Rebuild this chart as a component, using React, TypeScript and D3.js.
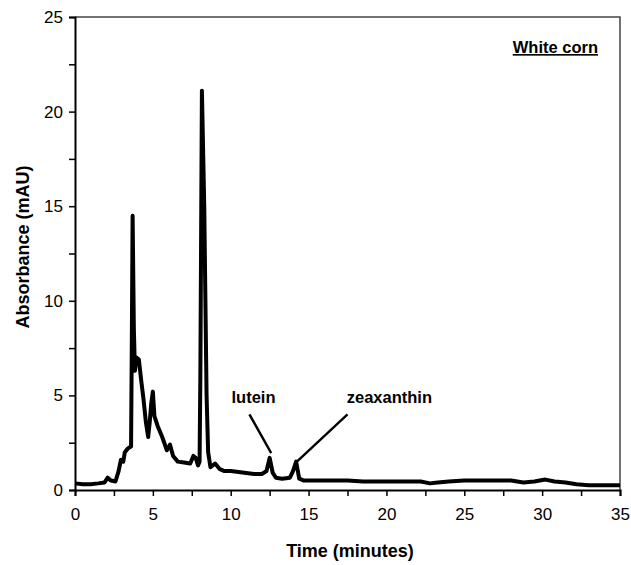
import React, { useEffect, useRef } from 'react';
import * as d3 from 'd3';

// chromatogram trace
const time = [
  0, 0.5, 1, 1.5, 1.9, 2.1, 2.3, 2.6, 2.8, 2.95, 3.1, 3.2, 3.4, 3.6, 3.65, 3.7, 3.78, 3.85, 3.95, 4.1, 4.25,
  4.4, 4.55, 4.7, 4.8, 4.9, 5.0, 5.1, 5.3, 5.6, 5.9, 6.1, 6.3, 6.6, 7.0, 7.4, 7.6, 7.75, 7.9, 8.0, 8.05,
  8.15, 8.3, 8.45, 8.55, 8.7, 9.0, 9.3, 9.6, 10, 10.5, 11, 11.5, 12, 12.3, 12.5, 12.7, 12.9, 13.3, 13.8,
  14.0, 14.2, 14.4, 14.7, 15.5, 16.5, 17.5, 18.5, 19.5, 20.5, 21.5, 22.2, 22.8, 23.3, 24, 25, 26, 27, 28,
  28.8, 29.5, 30.2, 30.8, 31.5, 32.2, 33, 34, 35,
];
const absorbance = [
  0.35, 0.3, 0.3, 0.35, 0.4, 0.65, 0.5, 0.45, 1.0, 1.6, 1.5, 2.0, 2.2, 2.3, 8, 14.5, 8.5, 6.3, 7.0, 6.9,
  5.8, 4.8, 3.6, 2.8, 3.6, 4.6, 5.2, 3.9, 3.4, 2.8, 2.1, 2.4, 1.8, 1.5, 1.45, 1.4, 1.8, 1.7, 1.3, 1.5, 6,
  21.1, 15, 5, 2.0, 1.2, 1.4, 1.1, 1.0, 1.0, 0.95, 0.9, 0.85, 0.85, 1.0, 1.7, 0.9, 0.65, 0.6, 0.65, 1.0,
  1.5, 0.6, 0.5, 0.5, 0.5, 0.5, 0.45, 0.45, 0.45, 0.45, 0.45, 0.35, 0.4, 0.45, 0.5, 0.5, 0.5, 0.5, 0.4,
  0.45, 0.55, 0.45, 0.4, 0.3, 0.25, 0.25, 0.25,
];

const xTicks = [0, 5, 10, 15, 20, 25, 30, 35];
const yTicks = [0, 5, 10, 15, 20, 25];

// peak labels: text anchor point and leader line ends, in data units
const peaks = [
  { name: 'lutein', tx: 10.05, ty: 4.6, x1: 11.2, y1: 4.0, x2: 12.6, y2: 1.95 },
  { name: 'zeaxanthin', tx: 17.45, ty: 4.6, x1: 17.5, y1: 4.0, x2: 14.25, y2: 1.5 },
];

const margin = { top: 17, right: 11, bottom: 75, left: 75 };
const W = 631;
const H = 565;
const width = W - margin.left - margin.right;
const height = H - margin.top - margin.bottom;
const font = 'Liberation Sans, Arial, sans-serif';

const App = () => {
  const ref = useRef<SVGGElement>(null);

  const x = d3.scaleLinear().domain([0, 35]).range([0, width]);
  const y = d3.scaleLinear().domain([0, 25]).range([height, 0]);

  useEffect(() => {
    const g = d3.select(ref.current);
    g.selectAll('*').remove();

    const xAxis = g
      .append('g')
      .attr('transform', `translate(0,${height})`)
      .call(
        d3
          .axisBottom(x)
          .tickValues(d3.range(0, 35.1, 2.5))
          .tickSize(6)
          .tickFormat((d) => (xTicks.includes(+d) ? String(d) : ''))
      );
    xAxis.select('.domain').attr('stroke-width', 2);
    xAxis.selectAll('line').attr('stroke-width', 1.5);
    xAxis
      .selectAll('text')
      .attr('font-family', font)
      .attr('font-size', 17)
      .attr('dy', '1.25em')
      .attr('fill', '#000');

    const yAxis = g.append('g').call(
      d3
        .axisLeft(y)
        .tickValues(d3.range(0, 25.1, 2.5))
        .tickSize(6)
        .tickFormat((d) => (yTicks.includes(+d) ? String(d) : ''))
    );
    yAxis.select('.domain').attr('stroke-width', 2);
    yAxis.selectAll('line').attr('stroke-width', 1.5);
    yAxis
      .selectAll('text')
      .attr('font-family', font)
      .attr('font-size', 17)
      .attr('x', -12)
      .attr('fill', '#000');

    const line = d3
      .line<number>()
      .x((_, i) => x(time[i]))
      .y((d) => y(d));

    g.append('path')
      .datum(absorbance)
      .attr('d', line)
      .attr('fill', 'none')
      .attr('stroke', '#000')
      .attr('stroke-width', 4)
      .attr('stroke-linejoin', 'round');

    peaks.forEach((p) => {
      g.append('text')
        .attr('x', x(p.tx))
        .attr('y', y(p.ty))
        .attr('font-family', font)
        .attr('font-weight', 'bold')
        .attr('font-size', 16.5)
        .text(p.name);
      g.append('line')
        .attr('x1', x(p.x1))
        .attr('y1', y(p.y1))
        .attr('x2', x(p.x2))
        .attr('y2', y(p.y2))
        .attr('stroke', '#000')
        .attr('stroke-width', 2.4);
    });
  }, []);

  return (
    <svg width={W} height={H} style={{ position: 'absolute', left: 0, top: 0, display: 'block' }}>
      <g transform={`translate(${margin.left},${margin.top})`}>
        {/* frame top & right */}
        <path
          d={`M${x(0)},${y(25)}H${x(35)}V${y(0)}`}
          fill="none"
          stroke="#444"
          strokeWidth={1.5}
        />
        <g ref={ref} />
        <text
          x={width - 22}
          y={36}
          textAnchor="end"
          fontFamily={font}
          fontWeight="bold"
          fontSize={16.5}
          textDecoration="underline"
        >
          White corn
        </text>
      </g>
      <text x={350} y={557} textAnchor="middle" fontFamily={font} fontWeight="bold" fontSize={18}>
        Time (minutes)
      </text>
      <text
        transform="translate(29,247) rotate(-90)"
        textAnchor="middle"
        fontFamily={font}
        fontWeight="bold"
        fontSize={18}
      >
        Absorbance (mAU)
      </text>
    </svg>
  );
};

export default App;
